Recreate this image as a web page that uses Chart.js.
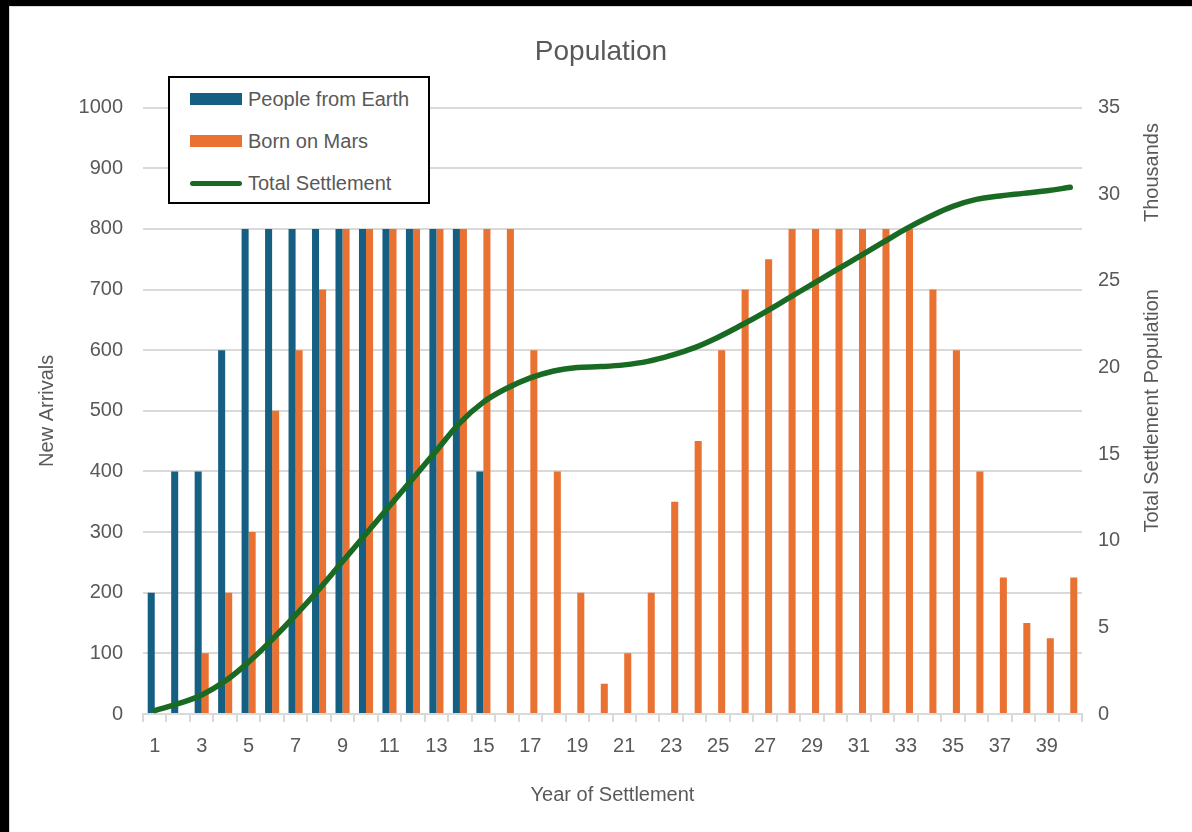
<!DOCTYPE html>
<html lang="en">

<head>
  <meta charset="UTF-8">
  <title>Population</title>
  <script src="https://cdn.jsdelivr.net/npm/chart.js"></script>
  <style>
    body {
      margin: 0;
      background: #000000;
      font-family: 'Liberation Sans', Arial, sans-serif;
    }

    #wrap {
      position: absolute;
      left: 9px;
      top: 6px;
      width: 1182px;
      height: 825px;
      background: #ffffff;
      border-top: 1px solid #d9d9d9;
      border-left: 1px solid #d9d9d9;
    }

    #legend {
      position: absolute;
      left: 158px;
      top: 69px;
      width: 258px;
      height: 124px;
      border: 2px solid #000000;
      background: #ffffff;
    }

    .item {
      position: absolute;
      left: 20px;
      height: 24px;
      display: flex;
      align-items: center;
      color: #595959;
      font-size: 20px;
    }

    .swatch {
      width: 52px;
      height: 12px;
      margin-right: 6px;
    }

    .swatch.line {
      height: 5px;
      border-radius: 3px;
    }
  </style>
</head>

<body>
  <div id="wrap">
    <canvas id="popChart"></canvas>
    <div id="legend"></div>
  </div>

  <script>
    const years = Array.from({ length: 40 }, (_, i) => String(i + 1));

    // new arrivals per year
    const fromEarth = [200, 400, 400, 600, 800, 800, 800, 800, 800, 800,
      800, 800, 800, 800, 400, 0, 0, 0, 0, 0,
      0, 0, 0, 0, 0, 0, 0, 0, 0, 0,
      0, 0, 0, 0, 0, 0, 0, 0, 0, 0];
    const bornOnMars = [0, 0, 100, 200, 300, 500, 600, 700, 800, 800,
      800, 800, 800, 800, 800, 800, 600, 400, 200, 50,
      100, 200, 350, 450, 600, 700, 750, 800, 800, 800,
      800, 800, 800, 700, 600, 400, 225, 150, 125, 225];

    // total settlement, thousands
    const totalSettlement = [0.2, 0.6, 1.1, 1.9, 3.0, 4.3, 5.7, 7.2, 8.8, 10.4,
      12.0, 13.6, 15.2, 16.8, 18.0, 18.8, 19.4, 19.8, 20.0, 20.05,
      20.15, 20.35, 20.7, 21.15, 21.75, 22.45, 23.2, 24.0, 24.8, 25.6,
      26.4, 27.2, 28.0, 28.7, 29.3, 29.7, 29.9, 30.05, 30.2, 30.4];

    const textColor = '#595959';
    const gridColor = '#d9d9d9';
    const font = { family: "'Liberation Sans', Arial, sans-serif", size: 20 };

    Chart.defaults.font.family = font.family;
    Chart.defaults.color = textColor;

    // right side titles, drawn reading bottom-to-top like the left one
    const rightTitles = {
      id: 'rightTitles',
      afterDraw(chart) {
        const { ctx, chartArea } = chart;
        const x = 1142;
        ctx.save();
        ctx.fillStyle = textColor;
        ctx.font = '20px ' + font.family;
        ctx.textAlign = 'center';
        ctx.textBaseline = 'middle';
        ctx.translate(x, (chartArea.top + chartArea.bottom) / 2);
        ctx.rotate(-Math.PI / 2);
        ctx.fillText('Total Settlement Population', 0, 0);
        ctx.restore();

        ctx.save();
        ctx.fillStyle = textColor;
        ctx.font = '20px ' + font.family;
        ctx.textAlign = 'center';
        ctx.textBaseline = 'middle';
        ctx.translate(x, chartArea.top + 65);
        ctx.rotate(-Math.PI / 2);
        ctx.fillText('Thousands', 0, 0);
        ctx.restore();
      }
    };

    const chart = new Chart(document.getElementById('popChart'), {
      data: {
        labels: years,
        datasets: [
          {
            type: 'line',
            label: 'Total Settlement',
            data: totalSettlement,
            yAxisID: 'y1',
            borderColor: '#196B24',
            backgroundColor: '#196B24',
            borderWidth: 5.5,
            pointRadius: 0,
            tension: 0.4,
            borderCapStyle: 'round',
            order: 0,
          },
          {
            type: 'bar',
            label: 'People from Earth',
            data: fromEarth,
            yAxisID: 'y',
            backgroundColor: '#156082',
            categoryPercentage: 0.6,
            barPercentage: 1.0,
            order: 1,
          },
          {
            type: 'bar',
            label: 'Born on Mars',
            data: bornOnMars,
            yAxisID: 'y',
            backgroundColor: '#E97132',
            categoryPercentage: 0.6,
            barPercentage: 1.0,
            order: 2,
          },
        ],
      },
      options: {
        responsive: true,
        maintainAspectRatio: false,
        animation: false,
        layout: { padding: 0 },
        plugins: {
          legend: { display: false },
          tooltip: { enabled: false },
          title: {
            display: true,
            text: 'Population',
            color: textColor,
            font: { size: 28, weight: 'normal' },
            padding: { top: 28, bottom: 39 },
          },
        },
        scales: {
          x: {
            offset: true,
            grid: {
              offset: true,
              drawOnChartArea: false,
              tickLength: 8,
              color: gridColor,
              lineWidth: 2,
            },
            border: { color: gridColor, width: 2 },
            ticks: {
              autoSkip: false,
              maxRotation: 0,
              padding: 12,
              font: font,
              callback: (v, i) => (i % 2 === 0 ? years[i] : ''),
            },
            title: {
              display: true,
              text: 'Year of Settlement',
              font: font,
              padding: { top: 13, bottom: 25 },
            },
          },
          y: {
            position: 'left',
            min: 0,
            max: 1000,
            ticks: { stepSize: 100, padding: 20, font: font, callback: (v) => String(v) },
            grid: { color: gridColor, lineWidth: 2, drawTicks: false },
            border: { display: false },
            title: {
              display: true,
              text: 'New Arrivals',
              font: font,
              padding: { top: 25 },
            },
            afterFit: (scale) => { scale.width = 133; },
          },
          y1: {
            position: 'right',
            min: 0,
            max: 35,
            ticks: { stepSize: 5, padding: 16, font: font },
            grid: { drawOnChartArea: false, drawTicks: false },
            border: { display: false },
            afterFit: (scale) => { scale.width = 110; },
          },
        },
      },
      plugins: [rightTitles],
    });

    // legend box built from the datasets
    const legend = document.getElementById('legend');
    const legendOrder = [1, 2, 0];
    legendOrder.forEach((idx, row) => {
      const ds = chart.data.datasets[idx];
      const item = document.createElement('div');
      item.className = 'item';
      item.style.top = (9 + row * 42) + 'px';
      const sw = document.createElement('span');
      sw.className = 'swatch' + (ds.type === 'line' ? ' line' : '');
      sw.style.background = ds.type === 'line' ? ds.borderColor : ds.backgroundColor;
      const txt = document.createElement('span');
      txt.textContent = ds.label;
      item.appendChild(sw);
      item.appendChild(txt);
      legend.appendChild(item);
    });
  </script>
</body>

</html>
